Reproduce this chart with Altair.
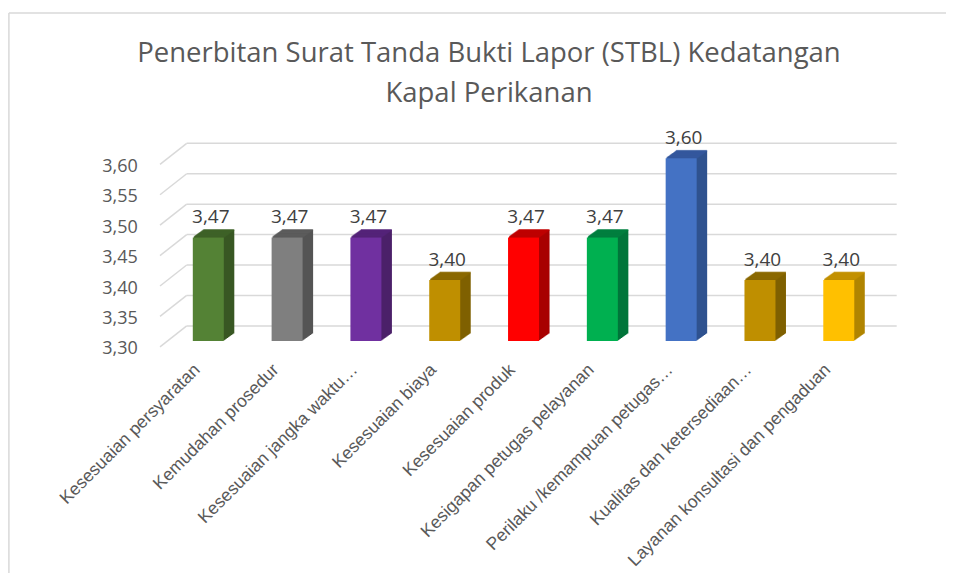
import altair as alt
import pandas as pd

CATEGORIES = [
    "Kesesuaian persyaratan",
    "Kemudahan prosedur",
    "Kesesuaian jangka waktu…",
    "Kesesuaian biaya",
    "Kesesuaian produk",
    "Kesigapan petugas pelayanan",
    "Perilaku /kemampuan petugas…",
    "Kualitas dan ketersediaan…",
    "Layanan konsultasi dan pengaduan",
]
VALUES = [3.47, 3.47, 3.47, 3.40, 3.47, 3.47, 3.60, 3.40, 3.40]
FRONT_COLORS = ["#548235", "#7f7f7f", "#7030a0", "#bf8f00", "#ff0000",
                "#00b050", "#4472c4", "#bf8f00", "#ffc000"]
SIDE_COLORS = ["#385723", "#545454", "#4b2069", "#7f6000", "#a80000",
               "#00753a", "#2f528f", "#7f6000", "#b08400"]
TOP_COLORS = ["#3f6228", "#5c5c5c", "#55247a", "#8c6a00", "#c00000",
              "#008040", "#34599e", "#8c6a00", "#c49200"]
Y_TICKS = [3.30, 3.35, 3.40, 3.45, 3.50, 3.55, 3.60]
TITLE = "Penerbitan Surat Tanda Bukti Lapor (STBL) Kedatangan\nKapal Perikanan"

W = 709.3
H = 182.6
BAR = 31
DEPTH_X = 10.5
DEPTH_Y = -7.5
STEPS = 10
GRID_COLOR = "#d9d9d9"
TEXT_COLOR = "#595959"

df = pd.DataFrame({"cat": CATEGORIES, "value": VALUES,
                   "front": FRONT_COLORS, "side": SIDE_COLORS, "top": TOP_COLORS})
gdf = pd.DataFrame({"v": Y_TICKS})

yscale = alt.Scale(domain=[3.30, 3.60], nice=False, zero=False)
xscale = alt.Scale(paddingInner=0, paddingOuter=0)

X_AXIS = alt.Axis(title=None, labelAngle=-45, labelAlign="right",
                  labelBaseline="middle", labelPadding=26, labelOffset=-11,
                  labelFont="Liberation Sans", labelFontSize=17.6,
                  labelColor=TEXT_COLOR, domain=False, ticks=False,
                  grid=False, labelLimit=400)
Y_AXIS = alt.Axis(title=None, values=Y_TICKS, grid=False, domain=False,
                  ticks=False, labelPadding=31.6, labelOffset=8,
                  labelFont="Open Sans", labelFontSize=18,
                  labelColor=TEXT_COLOR,
                  labelExpr="replace(format(datum.value, '.2f'), '.', ',')")

x_enc = alt.X("cat:N", sort=CATEGORIES, scale=xscale, axis=X_AXIS)
y_enc = alt.Y("value:Q", scale=yscale, axis=Y_AXIS)

base = alt.Chart(df)

# frame
frame_df = pd.DataFrame({"a": [0]})
frame_top = alt.Chart(frame_df).mark_rule(color=GRID_COLOR, strokeWidth=1.5).encode(
    x=alt.value(-160), x2=alt.value(W + 90), y=alt.value(-145.3))
frame_left = alt.Chart(frame_df).mark_rule(color=GRID_COLOR, strokeWidth=1.5).encode(
    x=alt.value(-160), y=alt.value(-145.3), y2=alt.value(H + 260))

# back-wall gridlines and left diagonals
grid = alt.Chart(gdf).mark_rule(color=GRID_COLOR, strokeWidth=1.5, yOffset=-15).encode(
    x=alt.value(17.8), x2=alt.value(727.8),
    y=alt.Y("v:Q", scale=yscale, axis=Y_AXIS))
diag = alt.Chart(gdf).mark_rule(color=GRID_COLOR, strokeWidth=1.5, yOffset=6, y2Offset=-15).encode(
    x=alt.value(-8.9), x2=alt.value(17.8),
    y=alt.Y("v:Q", scale=yscale, axis=Y_AXIS), y2=alt.Y2("v:Q"))

sides = []
tops = []
for k in range(1, STEPS + 1):
    dx = DEPTH_X * k / STEPS
    dy = DEPTH_Y * k / STEPS
    sides.append(base.mark_bar(size=BAR, xOffset=dx, x2Offset=dx, yOffset=dy, y2Offset=dy).encode(
        x=x_enc, y=y_enc, y2=alt.datum(3.30),
        color=alt.Color("side:N", scale=None)))
for k in range(1, STEPS + 1):
    dx = DEPTH_X * k / STEPS
    dy = DEPTH_Y * k / STEPS
    tops.append(base.mark_tick(orient="horizontal", size=BAR, thickness=1.8,
                               xOffset=dx, yOffset=dy).encode(
        x=x_enc, y=y_enc,
        color=alt.Color("top:N", scale=None)))

front = base.mark_bar(size=BAR).encode(
    x=x_enc, y=y_enc, y2=alt.datum(3.30),
    color=alt.Color("front:N", scale=None),
)

labels = base.transform_calculate(
    lbl="replace(format(datum.value, '.2f'), '.', ',')"
).mark_text(dx=2.5, dy=-14.5, baseline="alphabetic", font="Open Sans",
            fontSize=19, color="#404040").encode(
    x=x_enc, y=y_enc, text="lbl:N")

title = alt.Chart(pd.DataFrame({"t": [TITLE]})).mark_text(
    font="Open Sans", fontSize=27.5, color=TEXT_COLOR, align="center",
    baseline="alphabetic", lineBreak="\n", lineHeight=40).encode(
    x=alt.value(320.1), y=alt.value(-96.6), text="t:N")

chart = alt.layer(frame_top, frame_left, grid, diag, *sides, *tops, front, labels, title).properties(
    width=W, height=H,
    padding={"left": 160.9, "top": 150.3, "right": 68, "bottom": 232},
    autosize=alt.AutoSizeParams(type="none"),
).configure_view(stroke=None)

chart.save("out.html", embed_options={"renderer": "svg", "actions": False})
